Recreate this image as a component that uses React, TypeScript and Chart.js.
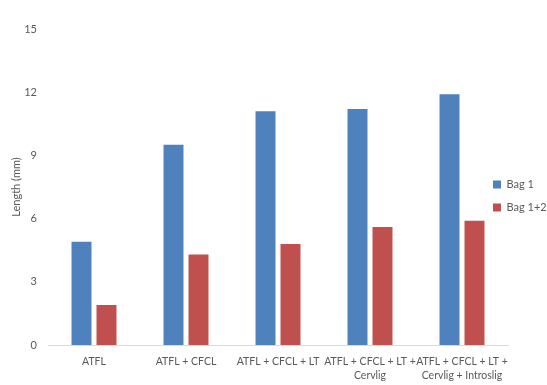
import React, { useEffect, useRef } from "react";
import { Chart, registerables } from "chart.js";

Chart.register(...registerables);

const categories: string[][] = [
  ["ATFL"],
  ["ATFL + CFCL"],
  ["ATFL + CFCL + LT"],
  ["ATFL + CFCL + LT +", "Cervlig"],
  ["ATFL + CFCL + LT +", "Cervlig + Introslig"],
];
const bag1Values = [4.9, 9.5, 11.1, 11.2, 11.9];
const bag12Values = [1.9, 4.3, 4.8, 5.6, 5.9];
const seriesNames = ["Bag 1", "Bag 1+2"];
const yMin = 0;
const yMax = 15;
const yStep = 3;
const yTitle = "Length (mm)";

const FONT = "Lato, 'Open Sans', sans-serif";
const TEXT = "#595959";

const legendShift = {
  id: "legendShift",
  afterLayout(chart: any) {
    const l = chart.legend;
    if (!l) return;
    const dx = -27;
    const dy = -11;
    l.left += dx;
    l.right = chart.width;
    l.width = l.right - l.left;
    l.top += dy;
    l.bottom += dy;
  },
};

export default function App() {
  const ref = useRef<HTMLCanvasElement | null>(null);
  useEffect(() => {
    if (!ref.current) return;
    const chart = new Chart(ref.current, {
      type: "bar",
      data: {
        labels: categories,
        datasets: [
          { label: seriesNames[0], data: bag1Values, backgroundColor: "#4F81BD" },
          { label: seriesNames[1], data: bag12Values, backgroundColor: "#C0504D" },
        ],
      },
      plugins: [legendShift],
      options: {
        animation: false,
        responsive: true,
        maintainAspectRatio: false,
        layout: { padding: { top: 29, left: 6, right: 0, bottom: 0 } },
        datasets: { bar: { categoryPercentage: 0.543, barPercentage: 0.8 } },
        plugins: {
          tooltip: { enabled: false },
          legend: {
            position: "right",
            maxWidth: 39,
            labels: {
              boxWidth: 8,
              boxHeight: 8,
              padding: 12,
              color: TEXT,
              font: { family: FONT, size: 11 },
            },
          },
        },
        scales: {
          x: {
            grid: { display: false, drawTicks: false },
            border: { display: true, color: "#D9D9D9", width: 1 },
            ticks: {
              autoSkip: false,
              maxRotation: 0,
              minRotation: 0,
              padding: 9,
              color: TEXT,
              font: { family: FONT, size: 10.5, lineHeight: 1.4 },
            },
            afterFit: (s: any) => {
              s.height = 40;
            },
          },
          y: {
            min: yMin,
            max: yMax,
            grid: { display: false, drawTicks: false },
            border: { display: false },
            ticks: {
              stepSize: yStep,
              padding: 11,
              color: TEXT,
              font: { family: FONT, size: 11 },
            },
            title: {
              display: true,
              text: yTitle,
              color: TEXT,
              font: { family: FONT, size: 11 },
              padding: { top: 4, bottom: 4 },
            },
            afterFit: (s: any) => {
              s.width = 42;
            },
          },
        },
      },
    });
    return () => chart.destroy();
  }, []);
  return (
    <div style={{ position: "absolute", left: 0, top: 0, width: 547, height: 385, background: "#fff" }}>
      <canvas ref={ref} />
    </div>
  );
}
